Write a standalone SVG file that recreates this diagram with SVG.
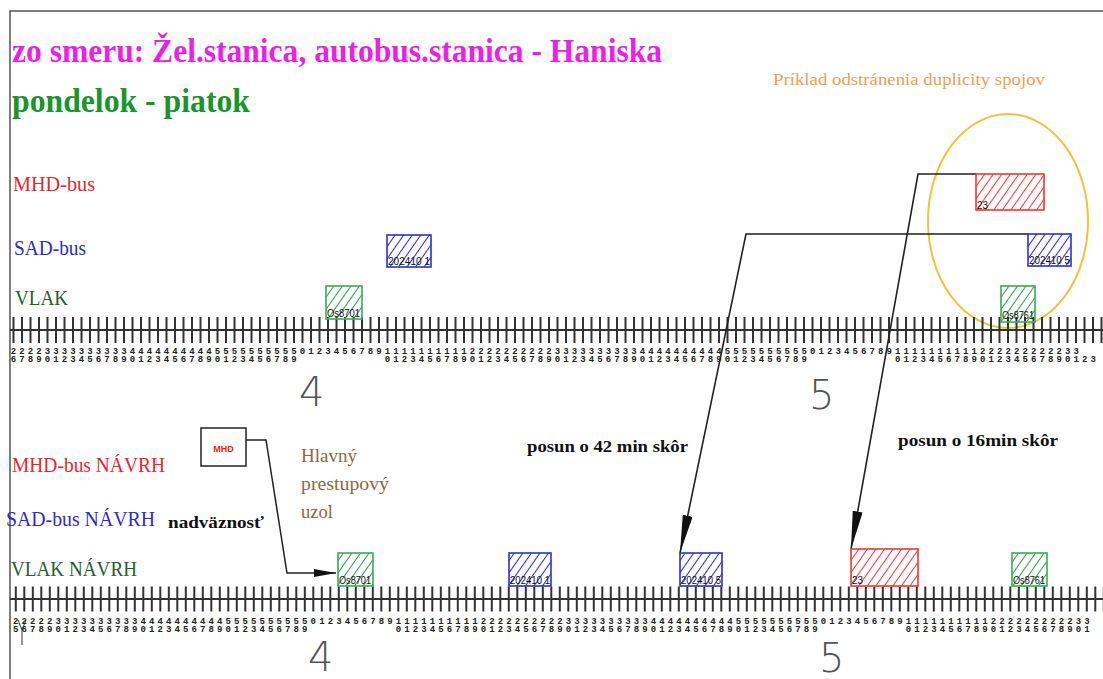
<svg xmlns="http://www.w3.org/2000/svg" width="1103" height="679" viewBox="0 0 1103 679">
<style>
.ser{font-family:"Liberation Serif","Times New Roman",serif}
.lbl{font-family:"Liberation Serif",serif;font-size:21px}
.bold{font-weight:bold}
.box{stroke-width:1.6}
.blab{font-family:"Liberation Sans",Arial,sans-serif;font-size:10px;fill:#111}
.dig{font-family:"Liberation Mono",monospace;font-size:9px;font-weight:bold;fill:#222;letter-spacing:3.1px}
.hour{font-family:"DejaVu Sans","Liberation Sans",sans-serif;font-weight:200;font-size:40px;fill:#555}
.con{fill:none;stroke:#222}
</style>
<defs>
<pattern id="hr" patternUnits="userSpaceOnUse" width="7" height="7" patternTransform="rotate(35)"><line x1="3.5" y1="0" x2="3.5" y2="7" stroke="#f04040" stroke-width="1.1"/></pattern>
<pattern id="hb" patternUnits="userSpaceOnUse" width="7" height="7" patternTransform="rotate(35)"><line x1="3.5" y1="0" x2="3.5" y2="7" stroke="#3030d8" stroke-width="1.1"/></pattern>
<pattern id="hg" patternUnits="userSpaceOnUse" width="7" height="7" patternTransform="rotate(35)"><line x1="3.5" y1="0" x2="3.5" y2="7" stroke="#35a050" stroke-width="1.1"/></pattern>
<marker id="big" markerUnits="userSpaceOnUse" markerWidth="40" markerHeight="12" refX="38" refY="5" orient="auto"><path d="M0,0 L38,5 L0,10 z" fill="#111"/></marker>
<marker id="sm" markerUnits="userSpaceOnUse" markerWidth="24" markerHeight="10" refX="22" refY="4" orient="auto"><path d="M0,0 L22,4 L0,8 z" fill="#111"/></marker>
</defs>
<rect width="1103" height="679" fill="#fff"/>
<path d="M10,679 V11 H1103" fill="none" stroke="#555" stroke-width="1.5"/>

<g id="title">
<text class="ser bold" x="12" y="62" font-size="34" fill="#ee1ee8" textLength="650" lengthAdjust="spacingAndGlyphs">zo smeru: Žel.stanica, autobus.stanica - Haniska</text>
<text class="ser bold" x="12" y="112" font-size="34" fill="#17972a" textLength="238" lengthAdjust="spacingAndGlyphs">pondelok - piatok</text>
<text class="ser" x="773" y="85" font-size="17" fill="#f0a050" textLength="272" lengthAdjust="spacingAndGlyphs">Príklad odstránenia duplicity spojov</text>
</g>

<g id="highlight"><ellipse cx="1008" cy="221" rx="80" ry="107" fill="none" stroke="#f0c43c" stroke-width="2"/></g>

<g id="row-labels">
<text class="lbl" x="13" y="191" fill="#e8262e" textLength="82" lengthAdjust="spacingAndGlyphs">MHD-bus</text>
<text class="lbl" x="14" y="255" fill="#2b2bd0" textLength="72" lengthAdjust="spacingAndGlyphs">SAD-bus</text>
<text class="lbl" x="15" y="305" fill="#22602a" textLength="53" lengthAdjust="spacingAndGlyphs">VLAK</text>
<text class="lbl" x="12" y="472" fill="#e8262e" textLength="153" lengthAdjust="spacingAndGlyphs">MHD-bus NÁVRH</text>
<text class="lbl" x="6" y="526" fill="#2b2bd0" textLength="149" lengthAdjust="spacingAndGlyphs">SAD-bus NÁVRH</text>
<text class="lbl" x="11" y="576" fill="#22602a" textLength="126" lengthAdjust="spacingAndGlyphs">VLAK NÁVRH</text>
</g>

<g id="notes">
<text class="ser bold" x="168" y="528" font-size="17" fill="#111" textLength="96" lengthAdjust="spacingAndGlyphs">nadväznosť</text>
<text class="ser" x="301" y="462" font-size="18" fill="#8a6a42" textLength="56" lengthAdjust="spacingAndGlyphs">Hlavný</text>
<text class="ser" x="301" y="490" font-size="18" fill="#8a6a42" textLength="88" lengthAdjust="spacingAndGlyphs">prestupový</text>
<text class="ser" x="301" y="518" font-size="18" fill="#8a6a42" textLength="32" lengthAdjust="spacingAndGlyphs">uzol</text>
<text class="ser bold" x="527" y="452" font-size="17" fill="#111" textLength="161" lengthAdjust="spacingAndGlyphs">posun o 42 min skôr</text>
<text class="ser bold" x="898" y="446" font-size="17" fill="#111" textLength="160" lengthAdjust="spacingAndGlyphs">posun o 16min skôr</text>
</g>

<g id="ruler-top">
<line x1="10" y1="330" x2="1103" y2="330" stroke="#333" stroke-width="2"/>
<line x1="12.5" y1="330" x2="1103" y2="330" stroke="#333" stroke-width="26" stroke-dasharray="2 6.5"/>
<text class="dig" x="10.8" y="354" xml:space="preserve">222233333333334444444444555555555501234567891111111111222222222233333333334444444444555555555501234567891111111111222222222233</text>
<text class="dig" x="10.8" y="362" xml:space="preserve">6789012345678901234567890123456789          01234567890123456789012345678901234567890123456789          012345678901234567890123</text>
<text class="hour" x="299" y="406">4</text>
<text class="hour" x="809" y="409">5</text>
</g>

<g id="ruler-bottom">
<line x1="10" y1="599" x2="1103" y2="599" stroke="#333" stroke-width="2"/>
<line x1="14.8" y1="599" x2="1103" y2="599" stroke="#333" stroke-width="25" stroke-dasharray="2 6.5"/>
<text class="dig" x="13.1" y="624" xml:space="preserve">2222233333333334444444444555555555501234567891111111111222222222233333333334444444444555555555501234567891111111111222222222233</text>
<text class="dig" x="13.1" y="632" xml:space="preserve">56789012345678901234567890123456789          01234567890123456789012345678901234567890123456789          0123456789012345678901</text>
<path d="M18,620 L22,630 L26,620 M22,630 V645" fill="none" stroke="#333" stroke-width="1"/>
<text class="hour" x="308" y="671">4</text>
<text class="hour" x="819" y="672">5</text>
</g>

<g id="connectors">
<polyline class="con" points="245,440 266,440 287,573 336,573" stroke-width="1.5" marker-end="url(#sm)"/>
<polyline class="con" points="1028,234 746,234 680,553" stroke-width="1.6" marker-end="url(#big)"/>
<polyline class="con" points="976,174 918,174 851,549" stroke-width="1.6" marker-end="url(#big)"/>
</g>

<g id="mhd-node">
<rect x="201" y="428" width="45" height="38" fill="#fff" stroke="#222" stroke-width="1.5"/>
<text x="223.5" y="452" text-anchor="middle" font-family="Liberation Sans,Arial,sans-serif" font-weight="bold" font-size="9" fill="#e82020">MHD</text>
</g>

<g id="top-mhd-23"><rect class="box" x="976" y="174" width="68" height="36" fill="url(#hr)" stroke="#f03535"/><text class="blab" x="977" y="209" textLength="11" lengthAdjust="spacingAndGlyphs">23</text></g>
<g id="top-sad-1"><rect class="box" x="387" y="235" width="44" height="32" fill="url(#hb)" stroke="#2e2ee0"/><text class="blab" x="388" y="265" textLength="42" lengthAdjust="spacingAndGlyphs">202410 1</text></g>
<g id="top-sad-5"><rect class="box" x="1028" y="234" width="43" height="32" fill="url(#hb)" stroke="#2e2ee0"/><text class="blab" x="1029" y="264" textLength="41" lengthAdjust="spacingAndGlyphs">202410 5</text></g>
<g id="top-vlak-1"><rect class="box" x="326" y="286" width="36" height="33" fill="url(#hg)" stroke="#35b055"/><text class="blab" x="327" y="317" textLength="33" lengthAdjust="spacingAndGlyphs">Os8701</text></g>
<g id="top-vlak-2"><rect class="box" x="1001" y="286" width="34" height="36" fill="url(#hg)" stroke="#35b055"/><text class="blab" x="1002" y="319" textLength="32" lengthAdjust="spacingAndGlyphs">Os8761</text></g>

<g id="bot-vlak-1"><rect class="box" x="338" y="553" width="35" height="33" fill="url(#hg)" stroke="#35b055"/><text class="blab" x="339" y="584" textLength="32" lengthAdjust="spacingAndGlyphs">Os8701</text></g>
<g id="bot-sad-1"><rect class="box" x="509" y="553" width="42" height="33" fill="url(#hb)" stroke="#2e2ee0"/><text class="blab" x="510" y="584" textLength="40" lengthAdjust="spacingAndGlyphs">202410 1</text></g>
<g id="bot-sad-5"><rect class="box" x="680" y="553" width="42" height="33" fill="url(#hb)" stroke="#2e2ee0"/><text class="blab" x="681" y="584" textLength="40" lengthAdjust="spacingAndGlyphs">202410 5</text></g>
<g id="bot-mhd-23"><rect class="box" x="851" y="549" width="67" height="37" fill="url(#hr)" stroke="#f03535"/><text class="blab" x="852" y="584" textLength="11" lengthAdjust="spacingAndGlyphs">23</text></g>
<g id="bot-vlak-2"><rect class="box" x="1012" y="553" width="35" height="33" fill="url(#hg)" stroke="#35b055"/><text class="blab" x="1013" y="584" textLength="32" lengthAdjust="spacingAndGlyphs">Os8761</text></g>
</svg>
